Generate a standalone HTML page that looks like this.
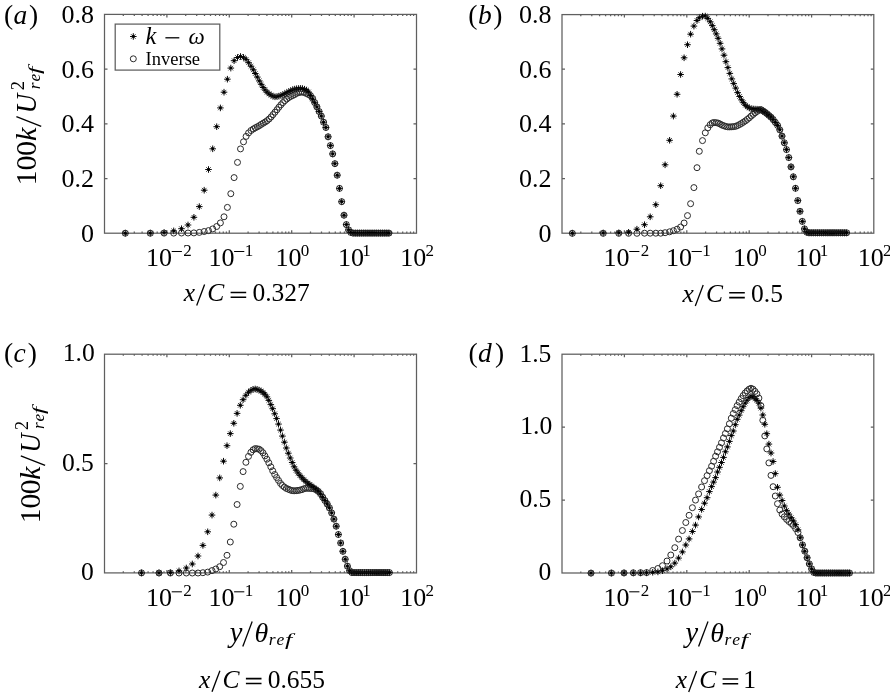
<!DOCTYPE html>
<html><head><meta charset="utf-8"><title>k profiles</title>
<style>html,body{margin:0;padding:0;background:#fff;}svg{display:block;filter:grayscale(1);}</style>
</head><body>
<svg width="890" height="695" viewBox="0 0 890 695">
<filter id="bl" filterUnits="userSpaceOnUse" x="0" y="0" width="890" height="695"><feGaussianBlur stdDeviation="0.35"/></filter>
<rect width="890" height="695" fill="#fff"/>
<g filter="url(#bl)">
<defs><g id="s"><path d="M-3.3 0H3.3M0 -3.3V3.3" stroke="#111" stroke-width="1"/><path d="M-2.3 -2.3L2.3 2.3M-2.3 2.3L2.3 -2.3" stroke="#222" stroke-width="0.85"/><circle r="1.45"/></g><circle id="o" r="3.0" fill="none" stroke="#2a2a2a" stroke-width="1.0"/></defs>
<rect x="104.5" y="14.4" width="312" height="218.8" stroke="#5e5e5e" stroke-width="1.25" fill="none"/>
<path d="M123.3 233.2v-1.6M123.3 14.4v1.6M134.3 233.2v-1.6M134.3 14.4v1.6M142.1 233.2v-1.6M142.1 14.4v1.6M148.1 233.2v-1.6M148.1 14.4v1.6M153.1 233.2v-1.6M153.1 14.4v1.6M157.2 233.2v-1.6M157.2 14.4v1.6M160.9 233.2v-1.6M160.9 14.4v1.6M164 233.2v-1.6M164 14.4v1.6M166.9 233.2v-3M166.9 14.4v3M185.7 233.2v-1.6M185.7 14.4v1.6M196.7 233.2v-1.6M196.7 14.4v1.6M204.5 233.2v-1.6M204.5 14.4v1.6M210.5 233.2v-1.6M210.5 14.4v1.6M215.5 233.2v-1.6M215.5 14.4v1.6M219.6 233.2v-1.6M219.6 14.4v1.6M223.3 233.2v-1.6M223.3 14.4v1.6M226.4 233.2v-1.6M226.4 14.4v1.6M229.3 233.2v-3M229.3 14.4v3M248.1 233.2v-1.6M248.1 14.4v1.6M259.1 233.2v-1.6M259.1 14.4v1.6M266.9 233.2v-1.6M266.9 14.4v1.6M272.9 233.2v-1.6M272.9 14.4v1.6M277.9 233.2v-1.6M277.9 14.4v1.6M282 233.2v-1.6M282 14.4v1.6M285.7 233.2v-1.6M285.7 14.4v1.6M288.8 233.2v-1.6M288.8 14.4v1.6M291.7 233.2v-3M291.7 14.4v3M310.5 233.2v-1.6M310.5 14.4v1.6M321.5 233.2v-1.6M321.5 14.4v1.6M329.3 233.2v-1.6M329.3 14.4v1.6M335.3 233.2v-1.6M335.3 14.4v1.6M340.3 233.2v-1.6M340.3 14.4v1.6M344.4 233.2v-1.6M344.4 14.4v1.6M348.1 233.2v-1.6M348.1 14.4v1.6M351.2 233.2v-1.6M351.2 14.4v1.6M354.1 233.2v-3M354.1 14.4v3M372.9 233.2v-1.6M372.9 14.4v1.6M383.9 233.2v-1.6M383.9 14.4v1.6M391.7 233.2v-1.6M391.7 14.4v1.6M397.7 233.2v-1.6M397.7 14.4v1.6M402.7 233.2v-1.6M402.7 14.4v1.6M406.8 233.2v-1.6M406.8 14.4v1.6M410.5 233.2v-1.6M410.5 14.4v1.6M413.6 233.2v-1.6M413.6 14.4v1.6M104.5 178.5h3M416.5 178.5h-3M104.5 123.8h3M416.5 123.8h-3M104.5 69.1h3M416.5 69.1h-3" stroke="#5e5e5e" stroke-width="1.25" fill="none"/>
<use href="#o" x="125.3" y="233.2"/><use href="#o" x="150.3" y="233.2"/><use href="#o" x="164.1" y="233.1"/><use href="#o" x="173.7" y="233.1"/><use href="#o" x="181.5" y="233"/><use href="#o" x="188" y="233"/><use href="#o" x="193.9" y="232.9"/><use href="#o" x="199.3" y="232.4"/><use href="#o" x="204.2" y="231.5"/><use href="#o" x="208.5" y="230.6"/><use href="#o" x="212.7" y="228.9"/><use href="#o" x="216.7" y="226.5"/><use href="#o" x="220.4" y="222.9"/><use href="#o" x="224" y="216.8"/><use href="#o" x="227.4" y="207.4"/><use href="#o" x="230.8" y="193.7"/><use href="#o" x="234.1" y="177.6"/><use href="#o" x="237.5" y="162.4"/><use href="#o" x="240.5" y="148.9"/><use href="#o" x="243.5" y="141.8"/><use href="#o" x="246.1" y="136.4"/><use href="#o" x="248.6" y="132.9"/><use href="#o" x="251" y="130.5"/><use href="#o" x="253.3" y="129"/><use href="#o" x="255.3" y="127.8"/><use href="#o" x="257.3" y="126.8"/><use href="#o" x="259.3" y="125.7"/><use href="#o" x="261.2" y="124.4"/><use href="#o" x="263.2" y="123.2"/><use href="#o" x="265.2" y="122"/><use href="#o" x="267.1" y="120.7"/><use href="#o" x="269.1" y="119"/><use href="#o" x="271.1" y="116.9"/><use href="#o" x="273" y="114.6"/><use href="#o" x="275" y="112.2"/><use href="#o" x="277" y="109.7"/><use href="#o" x="278.9" y="107.2"/><use href="#o" x="280.9" y="104.8"/><use href="#o" x="282.9" y="102.6"/><use href="#o" x="284.8" y="100.7"/><use href="#o" x="286.8" y="99"/><use href="#o" x="288.8" y="97.5"/><use href="#o" x="290.7" y="96.4"/><use href="#o" x="292.7" y="95.5"/><use href="#o" x="294.7" y="94.5"/><use href="#o" x="296.6" y="93.3"/><use href="#o" x="298.6" y="92.6"/><use href="#o" x="300.6" y="92.2"/><use href="#o" x="302.5" y="92.1"/><use href="#o" x="304.5" y="92.6"/><use href="#o" x="306.5" y="93.5"/><use href="#o" x="308.5" y="94.5"/><use href="#o" x="310.5" y="95.6"/><use href="#o" x="312.6" y="98.4"/><use href="#o" x="314.7" y="102.6"/><use href="#o" x="316.9" y="106.9"/><use href="#o" x="319.1" y="111.5"/><use href="#o" x="321.3" y="116.1"/><use href="#o" x="323.6" y="122.2"/><use href="#o" x="325.9" y="127.5"/><use href="#o" x="328.1" y="136.8"/><use href="#o" x="330.4" y="145.6"/><use href="#o" x="332.7" y="153.9"/><use href="#o" x="334.9" y="163.7"/><use href="#o" x="337.2" y="175.2"/><use href="#o" x="339.5" y="188.4"/><use href="#o" x="341.7" y="201.7"/><use href="#o" x="344" y="215.2"/><use href="#o" x="346.3" y="224.6"/><use href="#o" x="348.6" y="229.9"/><use href="#o" x="350.8" y="232.4"/><use href="#o" x="353.1" y="233.1"/><use href="#o" x="355.3" y="233.1"/><use href="#o" x="357.4" y="233.1"/><use href="#o" x="359.5" y="233.1"/><use href="#o" x="361.6" y="233.1"/><use href="#o" x="363.7" y="233.1"/><use href="#o" x="365.8" y="233.1"/><use href="#o" x="367.9" y="233.1"/><use href="#o" x="370" y="233.1"/><use href="#o" x="372.1" y="233.1"/><use href="#o" x="374.2" y="233.1"/><use href="#o" x="376.3" y="233.1"/><use href="#o" x="378.4" y="233.1"/><use href="#o" x="380.5" y="233.1"/><use href="#o" x="382.6" y="233.1"/><use href="#o" x="384.7" y="233.1"/><use href="#o" x="386.8" y="233.1"/><use href="#o" x="388.9" y="233.1"/><use href="#s" x="125.3" y="233.2"/><use href="#s" x="150.3" y="233.1"/><use href="#s" x="164.1" y="232.6"/><use href="#s" x="173.7" y="230.9"/><use href="#s" x="181.5" y="228.7"/><use href="#s" x="188" y="225"/><use href="#s" x="193.9" y="217.3"/><use href="#s" x="199.3" y="206.6"/><use href="#s" x="204.2" y="190.2"/><use href="#s" x="208.5" y="169.5"/><use href="#s" x="212.7" y="148.8"/><use href="#s" x="216.7" y="126.7"/><use href="#s" x="220.4" y="107.9"/><use href="#s" x="224" y="92.2"/><use href="#s" x="227.4" y="79.2"/><use href="#s" x="230.8" y="68.1"/><use href="#s" x="234.1" y="60.7"/><use href="#s" x="237.5" y="57.5"/><use href="#s" x="240.5" y="56.5"/><use href="#s" x="243.5" y="57.4"/><use href="#s" x="246.1" y="59.4"/><use href="#s" x="248.6" y="62.7"/><use href="#s" x="251" y="66.2"/><use href="#s" x="253.3" y="69.8"/><use href="#s" x="255.3" y="73.5"/><use href="#s" x="257.3" y="77.1"/><use href="#s" x="259.3" y="80.9"/><use href="#s" x="261.2" y="84.3"/><use href="#s" x="263.2" y="87.5"/><use href="#s" x="265.2" y="90.1"/><use href="#s" x="267.1" y="92.2"/><use href="#s" x="269.1" y="93.9"/><use href="#s" x="271.1" y="95.1"/><use href="#s" x="273" y="96.2"/><use href="#s" x="275" y="96.8"/><use href="#s" x="277" y="96.6"/><use href="#s" x="278.9" y="96.1"/><use href="#s" x="280.9" y="95.5"/><use href="#s" x="282.9" y="94.7"/><use href="#s" x="284.8" y="93.7"/><use href="#s" x="286.8" y="92.6"/><use href="#s" x="288.8" y="91.6"/><use href="#s" x="290.7" y="90.7"/><use href="#s" x="292.7" y="89.8"/><use href="#s" x="294.7" y="89.1"/><use href="#s" x="296.6" y="88.7"/><use href="#s" x="298.6" y="88.5"/><use href="#s" x="300.6" y="88.4"/><use href="#s" x="302.5" y="88.6"/><use href="#s" x="304.5" y="89.2"/><use href="#s" x="306.5" y="90.1"/><use href="#s" x="308.5" y="92"/><use href="#s" x="310.5" y="95.6"/><use href="#s" x="312.6" y="99"/><use href="#s" x="314.7" y="102.7"/><use href="#s" x="316.9" y="106.9"/><use href="#s" x="319.1" y="111.5"/><use href="#s" x="321.3" y="116.1"/><use href="#s" x="323.6" y="122.2"/><use href="#s" x="325.9" y="127.5"/><use href="#s" x="328.1" y="136.8"/><use href="#s" x="330.4" y="145.6"/><use href="#s" x="332.7" y="153.9"/><use href="#s" x="334.9" y="163.7"/><use href="#s" x="337.2" y="175.2"/><use href="#s" x="339.5" y="188.4"/><use href="#s" x="341.7" y="201.7"/><use href="#s" x="344" y="215.2"/><use href="#s" x="346.3" y="224.6"/><use href="#s" x="348.6" y="229.9"/><use href="#s" x="350.8" y="232.4"/><use href="#s" x="353.1" y="233.1"/><use href="#s" x="355.3" y="233.1"/><use href="#s" x="357.4" y="233.1"/><use href="#s" x="359.5" y="233.1"/><use href="#s" x="361.6" y="233.1"/><use href="#s" x="363.7" y="233.1"/><use href="#s" x="365.8" y="233.1"/><use href="#s" x="367.9" y="233.1"/><use href="#s" x="370" y="233.1"/><use href="#s" x="372.1" y="233.1"/><use href="#s" x="374.2" y="233.1"/><use href="#s" x="376.3" y="233.1"/><use href="#s" x="378.4" y="233.1"/><use href="#s" x="380.5" y="233.1"/><use href="#s" x="382.6" y="233.1"/><use href="#s" x="384.7" y="233.1"/><use href="#s" x="386.8" y="233.1"/><use href="#s" x="388.9" y="233.1"/>
<rect x="562" y="14.6" width="311.8" height="218.6" stroke="#5e5e5e" stroke-width="1.25" fill="none"/>
<path d="M580.8 233.2v-1.6M580.8 14.6v1.6M591.8 233.2v-1.6M591.8 14.6v1.6M599.6 233.2v-1.6M599.6 14.6v1.6M605.6 233.2v-1.6M605.6 14.6v1.6M610.6 233.2v-1.6M610.6 14.6v1.6M614.7 233.2v-1.6M614.7 14.6v1.6M618.4 233.2v-1.6M618.4 14.6v1.6M621.5 233.2v-1.6M621.5 14.6v1.6M624.4 233.2v-3M624.4 14.6v3M643.2 233.2v-1.6M643.2 14.6v1.6M654.2 233.2v-1.6M654.2 14.6v1.6M662 233.2v-1.6M662 14.6v1.6M668 233.2v-1.6M668 14.6v1.6M673 233.2v-1.6M673 14.6v1.6M677.1 233.2v-1.6M677.1 14.6v1.6M680.8 233.2v-1.6M680.8 14.6v1.6M683.9 233.2v-1.6M683.9 14.6v1.6M686.8 233.2v-3M686.8 14.6v3M705.6 233.2v-1.6M705.6 14.6v1.6M716.6 233.2v-1.6M716.6 14.6v1.6M724.4 233.2v-1.6M724.4 14.6v1.6M730.4 233.2v-1.6M730.4 14.6v1.6M735.4 233.2v-1.6M735.4 14.6v1.6M739.5 233.2v-1.6M739.5 14.6v1.6M743.2 233.2v-1.6M743.2 14.6v1.6M746.3 233.2v-1.6M746.3 14.6v1.6M749.2 233.2v-3M749.2 14.6v3M768 233.2v-1.6M768 14.6v1.6M779 233.2v-1.6M779 14.6v1.6M786.8 233.2v-1.6M786.8 14.6v1.6M792.8 233.2v-1.6M792.8 14.6v1.6M797.8 233.2v-1.6M797.8 14.6v1.6M801.9 233.2v-1.6M801.9 14.6v1.6M805.6 233.2v-1.6M805.6 14.6v1.6M808.7 233.2v-1.6M808.7 14.6v1.6M811.6 233.2v-3M811.6 14.6v3M830.4 233.2v-1.6M830.4 14.6v1.6M841.4 233.2v-1.6M841.4 14.6v1.6M849.2 233.2v-1.6M849.2 14.6v1.6M855.2 233.2v-1.6M855.2 14.6v1.6M860.2 233.2v-1.6M860.2 14.6v1.6M864.3 233.2v-1.6M864.3 14.6v1.6M868 233.2v-1.6M868 14.6v1.6M871.1 233.2v-1.6M871.1 14.6v1.6M562 178.5h3M873.8 178.5h-3M562 123.9h3M873.8 123.9h-3M562 69.2h3M873.8 69.2h-3" stroke="#5e5e5e" stroke-width="1.25" fill="none"/>
<use href="#o" x="572.3" y="233.3"/><use href="#o" x="603.2" y="233.3"/><use href="#o" x="618.8" y="233.3"/><use href="#o" x="628.6" y="233.3"/><use href="#o" x="636.9" y="233.3"/><use href="#o" x="644.5" y="233.2"/><use href="#o" x="650.2" y="233.2"/><use href="#o" x="655.8" y="233.2"/><use href="#o" x="660.7" y="233.2"/><use href="#o" x="665.1" y="232.7"/><use href="#o" x="669.6" y="231.8"/><use href="#o" x="673.4" y="230.7"/><use href="#o" x="677.1" y="229.2"/><use href="#o" x="680.6" y="227"/><use href="#o" x="684.1" y="223"/><use href="#o" x="687.5" y="215.6"/><use href="#o" x="690.6" y="203.7"/><use href="#o" x="693.9" y="187.6"/><use href="#o" x="697" y="167.7"/><use href="#o" x="699.3" y="151.3"/><use href="#o" x="702.5" y="140.6"/><use href="#o" x="705.3" y="132.8"/><use href="#o" x="707.8" y="127.9"/><use href="#o" x="710.2" y="124.7"/><use href="#o" x="712.3" y="122.9"/><use href="#o" x="714.2" y="122.5"/><use href="#o" x="716.2" y="122.7"/><use href="#o" x="718.1" y="123.1"/><use href="#o" x="720.1" y="124"/><use href="#o" x="722" y="125.1"/><use href="#o" x="724" y="125.8"/><use href="#o" x="725.9" y="126.5"/><use href="#o" x="727.9" y="126.9"/><use href="#o" x="729.8" y="126.9"/><use href="#o" x="731.8" y="126.8"/><use href="#o" x="733.7" y="126.6"/><use href="#o" x="735.7" y="126.3"/><use href="#o" x="737.6" y="125.5"/><use href="#o" x="739.6" y="124.5"/><use href="#o" x="741.5" y="123.4"/><use href="#o" x="743.4" y="122.2"/><use href="#o" x="745.4" y="120.9"/><use href="#o" x="747.3" y="119.4"/><use href="#o" x="749.3" y="117.8"/><use href="#o" x="751.2" y="116"/><use href="#o" x="753.2" y="114.4"/><use href="#o" x="755.1" y="112.8"/><use href="#o" x="757.1" y="111.4"/><use href="#o" x="759" y="110.1"/><use href="#o" x="761" y="109.7"/><use href="#o" x="762.9" y="110.9"/><use href="#o" x="764.9" y="112.2"/><use href="#o" x="766.9" y="113.7"/><use href="#o" x="768.9" y="115.4"/><use href="#o" x="771" y="117.2"/><use href="#o" x="773.2" y="119.6"/><use href="#o" x="775.3" y="122.4"/><use href="#o" x="777.6" y="125.4"/><use href="#o" x="779.8" y="129.8"/><use href="#o" x="782" y="136.1"/><use href="#o" x="784.3" y="142.8"/><use href="#o" x="786.5" y="149.6"/><use href="#o" x="788.8" y="157.6"/><use href="#o" x="791" y="166.9"/><use href="#o" x="793.3" y="176.8"/><use href="#o" x="795.5" y="188.3"/><use href="#o" x="797.8" y="200.6"/><use href="#o" x="800" y="211.3"/><use href="#o" x="802.3" y="221.4"/><use href="#o" x="804.5" y="228.9"/><use href="#o" x="806.8" y="232.2"/><use href="#o" x="809" y="232.8"/><use href="#o" x="811.2" y="232.8"/><use href="#o" x="813.3" y="232.8"/><use href="#o" x="815.4" y="232.8"/><use href="#o" x="817.5" y="232.8"/><use href="#o" x="819.6" y="232.8"/><use href="#o" x="821.7" y="232.8"/><use href="#o" x="823.7" y="232.8"/><use href="#o" x="825.8" y="232.8"/><use href="#o" x="827.9" y="232.8"/><use href="#o" x="830" y="232.8"/><use href="#o" x="832.1" y="232.8"/><use href="#o" x="834.1" y="232.8"/><use href="#o" x="836.2" y="232.8"/><use href="#o" x="838.3" y="232.8"/><use href="#o" x="840.4" y="232.8"/><use href="#o" x="842.4" y="232.8"/><use href="#o" x="844.5" y="232.8"/><use href="#o" x="846.6" y="232.8"/><use href="#s" x="572.3" y="233.2"/><use href="#s" x="603.2" y="233"/><use href="#s" x="618.8" y="232.8"/><use href="#s" x="628.6" y="232.3"/><use href="#s" x="636.9" y="229.2"/><use href="#s" x="644.5" y="224.7"/><use href="#s" x="650.2" y="216.8"/><use href="#s" x="655.8" y="204.7"/><use href="#s" x="660.7" y="185.7"/><use href="#s" x="665.1" y="164.8"/><use href="#s" x="669.6" y="140.3"/><use href="#s" x="673.4" y="116.1"/><use href="#s" x="677.1" y="94.3"/><use href="#s" x="680.6" y="74.5"/><use href="#s" x="684.1" y="57.8"/><use href="#s" x="687.5" y="44.7"/><use href="#s" x="690.6" y="34.2"/><use href="#s" x="693.9" y="26.1"/><use href="#s" x="697" y="20.5"/><use href="#s" x="699.3" y="17.8"/><use href="#s" x="702.5" y="16.2"/><use href="#s" x="705.3" y="16.1"/><use href="#s" x="707.8" y="18.4"/><use href="#s" x="710.2" y="21.8"/><use href="#s" x="712.3" y="25.6"/><use href="#s" x="714.2" y="29.7"/><use href="#s" x="716.2" y="33.9"/><use href="#s" x="718.1" y="38.3"/><use href="#s" x="720.1" y="43.3"/><use href="#s" x="722" y="48.9"/><use href="#s" x="724" y="55.2"/><use href="#s" x="725.9" y="61.7"/><use href="#s" x="727.9" y="67.6"/><use href="#s" x="729.8" y="73.4"/><use href="#s" x="731.8" y="78.9"/><use href="#s" x="733.7" y="83.6"/><use href="#s" x="735.7" y="88.1"/><use href="#s" x="737.6" y="92.6"/><use href="#s" x="739.6" y="96.5"/><use href="#s" x="741.5" y="99.9"/><use href="#s" x="743.4" y="102.7"/><use href="#s" x="745.4" y="105.2"/><use href="#s" x="747.3" y="106.8"/><use href="#s" x="749.3" y="108"/><use href="#s" x="751.2" y="108.7"/><use href="#s" x="753.2" y="109"/><use href="#s" x="755.1" y="109.1"/><use href="#s" x="757.1" y="109.2"/><use href="#s" x="759" y="109.4"/><use href="#s" x="761" y="109.7"/><use href="#s" x="762.9" y="110.9"/><use href="#s" x="764.9" y="112.2"/><use href="#s" x="766.9" y="113.7"/><use href="#s" x="768.9" y="115.4"/><use href="#s" x="771" y="117.2"/><use href="#s" x="773.2" y="119.6"/><use href="#s" x="775.3" y="122.4"/><use href="#s" x="777.6" y="125.4"/><use href="#s" x="779.8" y="129.8"/><use href="#s" x="782" y="136.1"/><use href="#s" x="784.3" y="142.8"/><use href="#s" x="786.5" y="149.6"/><use href="#s" x="788.8" y="157.6"/><use href="#s" x="791" y="166.9"/><use href="#s" x="793.3" y="176.8"/><use href="#s" x="795.5" y="188.3"/><use href="#s" x="797.8" y="200.6"/><use href="#s" x="800" y="211.3"/><use href="#s" x="802.3" y="221.4"/><use href="#s" x="804.5" y="228.9"/><use href="#s" x="806.8" y="232.2"/><use href="#s" x="809" y="232.8"/><use href="#s" x="811.2" y="232.8"/><use href="#s" x="813.3" y="232.8"/><use href="#s" x="815.4" y="232.8"/><use href="#s" x="817.5" y="232.8"/><use href="#s" x="819.6" y="232.8"/><use href="#s" x="821.7" y="232.8"/><use href="#s" x="823.7" y="232.8"/><use href="#s" x="825.8" y="232.8"/><use href="#s" x="827.9" y="232.8"/><use href="#s" x="830" y="232.8"/><use href="#s" x="832.1" y="232.8"/><use href="#s" x="834.1" y="232.8"/><use href="#s" x="836.2" y="232.8"/><use href="#s" x="838.3" y="232.8"/><use href="#s" x="840.4" y="232.8"/><use href="#s" x="842.4" y="232.8"/><use href="#s" x="844.5" y="232.8"/><use href="#s" x="846.6" y="232.8"/>
<rect x="104.5" y="354.2" width="312" height="218.7" stroke="#5e5e5e" stroke-width="1.25" fill="none"/>
<path d="M123.3 572.9v-1.6M123.3 354.2v1.6M134.3 572.9v-1.6M134.3 354.2v1.6M142.1 572.9v-1.6M142.1 354.2v1.6M148.1 572.9v-1.6M148.1 354.2v1.6M153.1 572.9v-1.6M153.1 354.2v1.6M157.2 572.9v-1.6M157.2 354.2v1.6M160.9 572.9v-1.6M160.9 354.2v1.6M164 572.9v-1.6M164 354.2v1.6M166.9 572.9v-3M166.9 354.2v3M185.7 572.9v-1.6M185.7 354.2v1.6M196.7 572.9v-1.6M196.7 354.2v1.6M204.5 572.9v-1.6M204.5 354.2v1.6M210.5 572.9v-1.6M210.5 354.2v1.6M215.5 572.9v-1.6M215.5 354.2v1.6M219.6 572.9v-1.6M219.6 354.2v1.6M223.3 572.9v-1.6M223.3 354.2v1.6M226.4 572.9v-1.6M226.4 354.2v1.6M229.3 572.9v-3M229.3 354.2v3M248.1 572.9v-1.6M248.1 354.2v1.6M259.1 572.9v-1.6M259.1 354.2v1.6M266.9 572.9v-1.6M266.9 354.2v1.6M272.9 572.9v-1.6M272.9 354.2v1.6M277.9 572.9v-1.6M277.9 354.2v1.6M282 572.9v-1.6M282 354.2v1.6M285.7 572.9v-1.6M285.7 354.2v1.6M288.8 572.9v-1.6M288.8 354.2v1.6M291.7 572.9v-3M291.7 354.2v3M310.5 572.9v-1.6M310.5 354.2v1.6M321.5 572.9v-1.6M321.5 354.2v1.6M329.3 572.9v-1.6M329.3 354.2v1.6M335.3 572.9v-1.6M335.3 354.2v1.6M340.3 572.9v-1.6M340.3 354.2v1.6M344.4 572.9v-1.6M344.4 354.2v1.6M348.1 572.9v-1.6M348.1 354.2v1.6M351.2 572.9v-1.6M351.2 354.2v1.6M354.1 572.9v-3M354.1 354.2v3M372.9 572.9v-1.6M372.9 354.2v1.6M383.9 572.9v-1.6M383.9 354.2v1.6M391.7 572.9v-1.6M391.7 354.2v1.6M397.7 572.9v-1.6M397.7 354.2v1.6M402.7 572.9v-1.6M402.7 354.2v1.6M406.8 572.9v-1.6M406.8 354.2v1.6M410.5 572.9v-1.6M410.5 354.2v1.6M413.6 572.9v-1.6M413.6 354.2v1.6M104.5 463.5h3M416.5 463.5h-3" stroke="#5e5e5e" stroke-width="1.25" fill="none"/>
<use href="#o" x="141.5" y="572.9"/><use href="#o" x="159" y="573"/><use href="#o" x="170.4" y="573"/><use href="#o" x="179" y="573"/><use href="#o" x="186.3" y="573"/><use href="#o" x="192.3" y="573"/><use href="#o" x="198" y="573"/><use href="#o" x="202.9" y="572.7"/><use href="#o" x="207.7" y="572.1"/><use href="#o" x="212" y="570.6"/><use href="#o" x="215.8" y="569"/><use href="#o" x="219.7" y="566.7"/><use href="#o" x="223.5" y="562.5"/><use href="#o" x="227" y="555.3"/><use href="#o" x="230.3" y="542"/><use href="#o" x="233.8" y="524.2"/><use href="#o" x="237.1" y="504.5"/><use href="#o" x="240.3" y="486.4"/><use href="#o" x="243.1" y="471.6"/><use href="#o" x="245.9" y="462.3"/><use href="#o" x="248.5" y="456.4"/><use href="#o" x="250.9" y="452.3"/><use href="#o" x="253.1" y="449.8"/><use href="#o" x="255.2" y="448.6"/><use href="#o" x="257.1" y="448.8"/><use href="#o" x="259.1" y="449.2"/><use href="#o" x="261" y="450.6"/><use href="#o" x="263" y="452.8"/><use href="#o" x="264.9" y="455.9"/><use href="#o" x="266.9" y="459.2"/><use href="#o" x="268.8" y="462.8"/><use href="#o" x="270.8" y="466.8"/><use href="#o" x="272.7" y="470.8"/><use href="#o" x="274.7" y="474.5"/><use href="#o" x="276.6" y="477.5"/><use href="#o" x="278.5" y="480.4"/><use href="#o" x="280.5" y="483.4"/><use href="#o" x="282.4" y="485.5"/><use href="#o" x="284.4" y="487.1"/><use href="#o" x="286.3" y="488.4"/><use href="#o" x="288.3" y="489.2"/><use href="#o" x="290.2" y="490"/><use href="#o" x="292.2" y="490.6"/><use href="#o" x="294.1" y="490.8"/><use href="#o" x="296.1" y="490.7"/><use href="#o" x="298" y="490.4"/><use href="#o" x="299.9" y="490.1"/><use href="#o" x="301.9" y="489.6"/><use href="#o" x="303.8" y="488.8"/><use href="#o" x="305.8" y="488.3"/><use href="#o" x="307.8" y="488.3"/><use href="#o" x="309.8" y="488.4"/><use href="#o" x="311.8" y="488.5"/><use href="#o" x="313.9" y="488.8"/><use href="#o" x="316.1" y="489.8"/><use href="#o" x="318.2" y="491.3"/><use href="#o" x="320.5" y="493.7"/><use href="#o" x="322.7" y="497.2"/><use href="#o" x="324.9" y="500.5"/><use href="#o" x="327.2" y="504"/><use href="#o" x="329.4" y="507.9"/><use href="#o" x="331.7" y="512.9"/><use href="#o" x="333.9" y="519.1"/><use href="#o" x="336.2" y="526.2"/><use href="#o" x="338.4" y="534.5"/><use href="#o" x="340.7" y="543"/><use href="#o" x="342.9" y="551.3"/><use href="#o" x="345.2" y="559.2"/><use href="#o" x="347.4" y="566.1"/><use href="#o" x="349.6" y="570.7"/><use href="#o" x="351.9" y="572.6"/><use href="#o" x="354.1" y="572.6"/><use href="#o" x="356.2" y="572.6"/><use href="#o" x="358.3" y="572.6"/><use href="#o" x="360.3" y="572.6"/><use href="#o" x="362.4" y="572.6"/><use href="#o" x="364.5" y="572.6"/><use href="#o" x="366.6" y="572.6"/><use href="#o" x="368.6" y="572.6"/><use href="#o" x="370.7" y="572.6"/><use href="#o" x="372.8" y="572.6"/><use href="#o" x="374.9" y="572.6"/><use href="#o" x="376.9" y="572.6"/><use href="#o" x="379" y="572.6"/><use href="#o" x="381.1" y="572.6"/><use href="#o" x="383.2" y="572.6"/><use href="#o" x="385.2" y="572.6"/><use href="#o" x="387.3" y="572.6"/><use href="#o" x="389.4" y="572.6"/><use href="#s" x="141.5" y="572.9"/><use href="#s" x="159" y="572.9"/><use href="#s" x="170.4" y="572.7"/><use href="#s" x="179" y="570.9"/><use href="#s" x="186.3" y="568"/><use href="#s" x="192.3" y="564"/><use href="#s" x="198" y="556"/><use href="#s" x="202.9" y="545.4"/><use href="#s" x="207.7" y="531.8"/><use href="#s" x="212" y="515.1"/><use href="#s" x="215.8" y="495.1"/><use href="#s" x="219.7" y="477.9"/><use href="#s" x="223.5" y="461.2"/><use href="#s" x="227" y="445.7"/><use href="#s" x="230.3" y="433.6"/><use href="#s" x="233.8" y="423.3"/><use href="#s" x="237.1" y="413.4"/><use href="#s" x="240.3" y="405.3"/><use href="#s" x="243.1" y="399.7"/><use href="#s" x="245.9" y="395.3"/><use href="#s" x="248.5" y="392.2"/><use href="#s" x="250.9" y="390.4"/><use href="#s" x="253.1" y="389.3"/><use href="#s" x="255.2" y="389"/><use href="#s" x="257.1" y="389.4"/><use href="#s" x="259.1" y="390.1"/><use href="#s" x="261" y="391"/><use href="#s" x="263" y="392.5"/><use href="#s" x="264.9" y="394.3"/><use href="#s" x="266.9" y="396.8"/><use href="#s" x="268.8" y="400.4"/><use href="#s" x="270.8" y="404.6"/><use href="#s" x="272.7" y="408.7"/><use href="#s" x="274.7" y="413.8"/><use href="#s" x="276.6" y="418.6"/><use href="#s" x="278.5" y="424.1"/><use href="#s" x="280.5" y="430.1"/><use href="#s" x="282.4" y="436.1"/><use href="#s" x="284.4" y="442.2"/><use href="#s" x="286.3" y="448"/><use href="#s" x="288.3" y="453.2"/><use href="#s" x="290.2" y="458"/><use href="#s" x="292.2" y="462.5"/><use href="#s" x="294.1" y="466.8"/><use href="#s" x="296.1" y="470.2"/><use href="#s" x="298" y="473"/><use href="#s" x="299.9" y="475.4"/><use href="#s" x="301.9" y="477.7"/><use href="#s" x="303.8" y="479.7"/><use href="#s" x="305.8" y="481.6"/><use href="#s" x="307.8" y="483.1"/><use href="#s" x="309.8" y="484.5"/><use href="#s" x="311.8" y="485.9"/><use href="#s" x="313.9" y="487.5"/><use href="#s" x="316.1" y="489.2"/><use href="#s" x="318.2" y="491.2"/><use href="#s" x="320.5" y="494"/><use href="#s" x="322.7" y="497.2"/><use href="#s" x="324.9" y="500.5"/><use href="#s" x="327.2" y="504"/><use href="#s" x="329.4" y="507.9"/><use href="#s" x="331.7" y="512.9"/><use href="#s" x="333.9" y="519.1"/><use href="#s" x="336.2" y="526.2"/><use href="#s" x="338.4" y="534.5"/><use href="#s" x="340.7" y="543"/><use href="#s" x="342.9" y="551.3"/><use href="#s" x="345.2" y="559.2"/><use href="#s" x="347.4" y="566.1"/><use href="#s" x="349.6" y="570.7"/><use href="#s" x="351.9" y="572.6"/><use href="#s" x="354.1" y="572.6"/><use href="#s" x="356.2" y="572.6"/><use href="#s" x="358.3" y="572.6"/><use href="#s" x="360.3" y="572.6"/><use href="#s" x="362.4" y="572.6"/><use href="#s" x="364.5" y="572.6"/><use href="#s" x="366.6" y="572.6"/><use href="#s" x="368.6" y="572.6"/><use href="#s" x="370.7" y="572.6"/><use href="#s" x="372.8" y="572.6"/><use href="#s" x="374.9" y="572.6"/><use href="#s" x="376.9" y="572.6"/><use href="#s" x="379" y="572.6"/><use href="#s" x="381.1" y="572.6"/><use href="#s" x="383.2" y="572.6"/><use href="#s" x="385.2" y="572.6"/><use href="#s" x="387.3" y="572.6"/><use href="#s" x="389.4" y="572.6"/>
<rect x="562" y="354.2" width="311.8" height="218.8" stroke="#5e5e5e" stroke-width="1.25" fill="none"/>
<path d="M580.8 573v-1.6M580.8 354.2v1.6M591.8 573v-1.6M591.8 354.2v1.6M599.6 573v-1.6M599.6 354.2v1.6M605.6 573v-1.6M605.6 354.2v1.6M610.6 573v-1.6M610.6 354.2v1.6M614.7 573v-1.6M614.7 354.2v1.6M618.4 573v-1.6M618.4 354.2v1.6M621.5 573v-1.6M621.5 354.2v1.6M624.4 573v-3M624.4 354.2v3M643.2 573v-1.6M643.2 354.2v1.6M654.2 573v-1.6M654.2 354.2v1.6M662 573v-1.6M662 354.2v1.6M668 573v-1.6M668 354.2v1.6M673 573v-1.6M673 354.2v1.6M677.1 573v-1.6M677.1 354.2v1.6M680.8 573v-1.6M680.8 354.2v1.6M683.9 573v-1.6M683.9 354.2v1.6M686.8 573v-3M686.8 354.2v3M705.6 573v-1.6M705.6 354.2v1.6M716.6 573v-1.6M716.6 354.2v1.6M724.4 573v-1.6M724.4 354.2v1.6M730.4 573v-1.6M730.4 354.2v1.6M735.4 573v-1.6M735.4 354.2v1.6M739.5 573v-1.6M739.5 354.2v1.6M743.2 573v-1.6M743.2 354.2v1.6M746.3 573v-1.6M746.3 354.2v1.6M749.2 573v-3M749.2 354.2v3M768 573v-1.6M768 354.2v1.6M779 573v-1.6M779 354.2v1.6M786.8 573v-1.6M786.8 354.2v1.6M792.8 573v-1.6M792.8 354.2v1.6M797.8 573v-1.6M797.8 354.2v1.6M801.9 573v-1.6M801.9 354.2v1.6M805.6 573v-1.6M805.6 354.2v1.6M808.7 573v-1.6M808.7 354.2v1.6M811.6 573v-3M811.6 354.2v3M830.4 573v-1.6M830.4 354.2v1.6M841.4 573v-1.6M841.4 354.2v1.6M849.2 573v-1.6M849.2 354.2v1.6M855.2 573v-1.6M855.2 354.2v1.6M860.2 573v-1.6M860.2 354.2v1.6M864.3 573v-1.6M864.3 354.2v1.6M868 573v-1.6M868 354.2v1.6M871.1 573v-1.6M871.1 354.2v1.6M562 500.1h3M873.8 500.1h-3M562 427.1h3M873.8 427.1h-3" stroke="#5e5e5e" stroke-width="1.25" fill="none"/>
<use href="#o" x="591" y="573.1"/><use href="#o" x="611.4" y="573"/><use href="#o" x="624" y="572.9"/><use href="#o" x="633.3" y="572.8"/><use href="#o" x="640.6" y="572.7"/><use href="#o" x="646.6" y="572.6"/><use href="#o" x="652.7" y="570.5"/><use href="#o" x="657.9" y="568.5"/><use href="#o" x="662.5" y="565.7"/><use href="#o" x="667" y="561"/><use href="#o" x="670.8" y="555"/><use href="#o" x="674.8" y="547.7"/><use href="#o" x="678.6" y="539.1"/><use href="#o" x="682.4" y="530.5"/><use href="#o" x="685.8" y="522.5"/><use href="#o" x="689.1" y="515.3"/><use href="#o" x="692.4" y="507.7"/><use href="#o" x="695.5" y="500.1"/><use href="#o" x="698.6" y="493.9"/><use href="#o" x="701.6" y="487"/><use href="#o" x="704.5" y="480.7"/><use href="#o" x="707.1" y="475.6"/><use href="#o" x="709.4" y="470.7"/><use href="#o" x="711.6" y="466.2"/><use href="#o" x="713.6" y="461.3"/><use href="#o" x="715.6" y="456.2"/><use href="#o" x="717.5" y="451.8"/><use href="#o" x="719.5" y="447.3"/><use href="#o" x="721.5" y="442.8"/><use href="#o" x="723.5" y="438"/><use href="#o" x="725.4" y="433.5"/><use href="#o" x="727.4" y="428.8"/><use href="#o" x="729.4" y="423.8"/><use href="#o" x="731.3" y="418.2"/><use href="#o" x="733.3" y="413.5"/><use href="#o" x="735.3" y="409.6"/><use href="#o" x="737.2" y="405.6"/><use href="#o" x="739.2" y="402.1"/><use href="#o" x="741.2" y="398.6"/><use href="#o" x="743.1" y="395.6"/><use href="#o" x="745.1" y="393"/><use href="#o" x="747.1" y="390.9"/><use href="#o" x="749.1" y="389.2"/><use href="#o" x="751" y="388.3"/><use href="#o" x="753" y="389.2"/><use href="#o" x="755" y="391.4"/><use href="#o" x="756.9" y="393.9"/><use href="#o" x="758.9" y="398.1"/><use href="#o" x="760.9" y="405.7"/><use href="#o" x="762.8" y="420.3"/><use href="#o" x="764.8" y="435.9"/><use href="#o" x="766.8" y="448.9"/><use href="#o" x="768.9" y="462.9"/><use href="#o" x="771" y="475.4"/><use href="#o" x="773.1" y="486.7"/><use href="#o" x="775.3" y="496"/><use href="#o" x="777.5" y="503.7"/><use href="#o" x="779.8" y="510"/><use href="#o" x="782.1" y="514.1"/><use href="#o" x="784.3" y="516.8"/><use href="#o" x="786.6" y="519.4"/><use href="#o" x="788.9" y="521.5"/><use href="#o" x="791.2" y="523.4"/><use href="#o" x="793.4" y="525.5"/><use href="#o" x="795.7" y="528.7"/><use href="#o" x="798" y="532.5"/><use href="#o" x="800.2" y="537.8"/><use href="#o" x="802.5" y="544.9"/><use href="#o" x="804.8" y="551.2"/><use href="#o" x="807.1" y="557.8"/><use href="#o" x="809.3" y="563.9"/><use href="#o" x="811.6" y="568.9"/><use href="#o" x="813.8" y="572.4"/><use href="#o" x="815.9" y="573"/><use href="#o" x="818" y="573"/><use href="#o" x="820.1" y="573"/><use href="#o" x="822.2" y="573"/><use href="#o" x="824.3" y="573"/><use href="#o" x="826.4" y="573"/><use href="#o" x="828.5" y="573"/><use href="#o" x="830.6" y="573"/><use href="#o" x="832.7" y="573"/><use href="#o" x="834.8" y="573"/><use href="#o" x="836.9" y="573"/><use href="#o" x="839" y="573"/><use href="#o" x="841.1" y="573"/><use href="#o" x="843.2" y="573"/><use href="#o" x="845.3" y="573"/><use href="#o" x="847.4" y="573"/><use href="#o" x="849.5" y="573"/><use href="#s" x="591" y="573.1"/><use href="#s" x="611.4" y="573.1"/><use href="#s" x="624" y="573"/><use href="#s" x="633.3" y="572.9"/><use href="#s" x="640.6" y="572.9"/><use href="#s" x="646.6" y="572.8"/><use href="#s" x="652.7" y="572.3"/><use href="#s" x="657.9" y="571.9"/><use href="#s" x="662.5" y="570.7"/><use href="#s" x="667" y="568.9"/><use href="#s" x="670.8" y="566.8"/><use href="#s" x="674.8" y="563.1"/><use href="#s" x="678.6" y="558.1"/><use href="#s" x="682.4" y="551.9"/><use href="#s" x="685.8" y="545"/><use href="#s" x="689.1" y="538.9"/><use href="#s" x="692.4" y="531.5"/><use href="#s" x="695.5" y="525.1"/><use href="#s" x="698.6" y="516.9"/><use href="#s" x="701.6" y="509.5"/><use href="#s" x="704.5" y="503.2"/><use href="#s" x="707.1" y="497.7"/><use href="#s" x="709.4" y="491.6"/><use href="#s" x="711.6" y="486.6"/><use href="#s" x="713.6" y="482.1"/><use href="#s" x="715.6" y="477.6"/><use href="#s" x="717.5" y="472"/><use href="#s" x="719.5" y="467.3"/><use href="#s" x="721.5" y="462.5"/><use href="#s" x="723.5" y="457.4"/><use href="#s" x="725.4" y="451.8"/><use href="#s" x="727.4" y="446.9"/><use href="#s" x="729.4" y="441.4"/><use href="#s" x="731.3" y="435.6"/><use href="#s" x="733.3" y="431"/><use href="#s" x="735.3" y="424.7"/><use href="#s" x="737.2" y="419.3"/><use href="#s" x="739.2" y="415.1"/><use href="#s" x="741.2" y="410.7"/><use href="#s" x="743.1" y="406.7"/><use href="#s" x="745.1" y="403.1"/><use href="#s" x="747.1" y="400.1"/><use href="#s" x="749.1" y="397.6"/><use href="#s" x="751" y="396.2"/><use href="#s" x="753" y="396.6"/><use href="#s" x="755" y="398.6"/><use href="#s" x="756.9" y="400.3"/><use href="#s" x="758.9" y="403.1"/><use href="#s" x="760.9" y="408.1"/><use href="#s" x="762.8" y="415"/><use href="#s" x="764.8" y="424.3"/><use href="#s" x="766.8" y="433.7"/><use href="#s" x="768.9" y="444.1"/><use href="#s" x="771" y="453"/><use href="#s" x="773.1" y="461.5"/><use href="#s" x="775.3" y="473.6"/><use href="#s" x="777.5" y="487.3"/><use href="#s" x="779.8" y="495.1"/><use href="#s" x="782.1" y="500.5"/><use href="#s" x="784.3" y="506"/><use href="#s" x="786.6" y="510.4"/><use href="#s" x="788.9" y="514.1"/><use href="#s" x="791.2" y="517.7"/><use href="#s" x="793.4" y="520.9"/><use href="#s" x="795.7" y="524.7"/><use href="#s" x="798" y="529.8"/><use href="#s" x="800.2" y="537.8"/><use href="#s" x="802.5" y="544.9"/><use href="#s" x="804.8" y="551.2"/><use href="#s" x="807.1" y="557.8"/><use href="#s" x="809.3" y="563.9"/><use href="#s" x="811.6" y="568.9"/><use href="#s" x="813.8" y="572.4"/><use href="#s" x="815.9" y="573"/><use href="#s" x="818" y="573"/><use href="#s" x="820.1" y="573"/><use href="#s" x="822.2" y="573"/><use href="#s" x="824.3" y="573"/><use href="#s" x="826.4" y="573"/><use href="#s" x="828.5" y="573"/><use href="#s" x="830.6" y="573"/><use href="#s" x="832.7" y="573"/><use href="#s" x="834.8" y="573"/><use href="#s" x="836.9" y="573"/><use href="#s" x="839" y="573"/><use href="#s" x="841.1" y="573"/><use href="#s" x="843.2" y="573"/><use href="#s" x="845.3" y="573"/><use href="#s" x="847.4" y="573"/><use href="#s" x="849.5" y="573"/>
<rect x="115.2" y="24.1" width="104.6" height="46" stroke="#5e5e5e" stroke-width="1.25" fill="none"/>
<use href="#s" x="133.3" y="36.5"/><use href="#o" x="133.3" y="58.8"/>
<g font-family="&quot;Liberation Serif&quot;, serif" fill="#000"><text x="93.9" y="241.7" font-size="26" text-anchor="end">0</text><text x="93.9" y="187" font-size="26" text-anchor="end">0.2</text><text x="93.9" y="132.3" font-size="26" text-anchor="end">0.4</text><text x="93.9" y="77.6" font-size="26" text-anchor="end">0.6</text><text x="93.9" y="22.9" font-size="26" text-anchor="end">0.8</text><text x="551.4" y="241.7" font-size="26" text-anchor="end">0</text><text x="551.4" y="187" font-size="26" text-anchor="end">0.2</text><text x="551.4" y="132.4" font-size="26" text-anchor="end">0.4</text><text x="551.4" y="77.7" font-size="26" text-anchor="end">0.6</text><text x="551.4" y="23.1" font-size="26" text-anchor="end">0.8</text><text x="93.9" y="580.3" font-size="25.6" text-anchor="end">0</text><text x="93.9" y="470.9" font-size="25.6" text-anchor="end">0.5</text><text x="94.8" y="361.1" font-size="25.6" text-anchor="end">1.0</text><text x="551.4" y="580.4" font-size="25.6" text-anchor="end">0</text><text x="551.4" y="507.4" font-size="25.6" text-anchor="end">0.5</text><text x="552.3" y="434" font-size="25.6" text-anchor="end">1.0</text><text x="551.4" y="361.6" font-size="25.6" text-anchor="end">1.5</text><text x="146" y="265.5" font-size="26">1</text><text x="159" y="265.5" font-size="26">0</text><path d="M171.7 251.5h10.2" stroke="#000" stroke-width="1.05"/><text x="183.2" y="255.7" font-size="17">2</text><text x="208.4" y="265.5" font-size="26">1</text><text x="221.4" y="265.5" font-size="26">0</text><path d="M234.1 251.5h10.2" stroke="#000" stroke-width="1.05"/><text x="244.8" y="255.7" font-size="17">1</text><text x="275.5" y="265.5" font-size="26">1</text><text x="288.5" y="265.5" font-size="26">0</text><text x="300.8" y="255.7" font-size="17">0</text><text x="337.9" y="265.5" font-size="26">1</text><text x="350.9" y="265.5" font-size="26">0</text><text x="362.3" y="255.7" font-size="17">1</text><text x="400.3" y="265.5" font-size="26">1</text><text x="413.3" y="265.5" font-size="26">0</text><text x="425.5" y="255.7" font-size="17">2</text><text x="603.5" y="265.5" font-size="26">1</text><text x="616.5" y="265.5" font-size="26">0</text><path d="M629.2 251.5h10.2" stroke="#000" stroke-width="1.05"/><text x="640.7" y="255.7" font-size="17">2</text><text x="665.9" y="265.5" font-size="26">1</text><text x="678.9" y="265.5" font-size="26">0</text><path d="M691.6 251.5h10.2" stroke="#000" stroke-width="1.05"/><text x="702.3" y="255.7" font-size="17">1</text><text x="733" y="265.5" font-size="26">1</text><text x="746" y="265.5" font-size="26">0</text><text x="758.3" y="255.7" font-size="17">0</text><text x="795.4" y="265.5" font-size="26">1</text><text x="808.4" y="265.5" font-size="26">0</text><text x="819.8" y="255.7" font-size="17">1</text><text x="857.8" y="265.5" font-size="26">1</text><text x="870.8" y="265.5" font-size="26">0</text><text x="883" y="255.7" font-size="17">2</text><text x="146" y="605.8" font-size="26">1</text><text x="159" y="605.8" font-size="26">0</text><path d="M171.7 591.8h10.2" stroke="#000" stroke-width="1.05"/><text x="183.2" y="596" font-size="17">2</text><text x="208.4" y="605.8" font-size="26">1</text><text x="221.4" y="605.8" font-size="26">0</text><path d="M234.1 591.8h10.2" stroke="#000" stroke-width="1.05"/><text x="244.8" y="596" font-size="17">1</text><text x="275.5" y="605.8" font-size="26">1</text><text x="288.5" y="605.8" font-size="26">0</text><text x="300.8" y="596" font-size="17">0</text><text x="337.9" y="605.8" font-size="26">1</text><text x="350.9" y="605.8" font-size="26">0</text><text x="362.3" y="596" font-size="17">1</text><text x="400.3" y="605.8" font-size="26">1</text><text x="413.3" y="605.8" font-size="26">0</text><text x="425.5" y="596" font-size="17">2</text><text x="603.5" y="605.8" font-size="26">1</text><text x="616.5" y="605.8" font-size="26">0</text><path d="M629.2 591.8h10.2" stroke="#000" stroke-width="1.05"/><text x="640.7" y="596" font-size="17">2</text><text x="665.9" y="605.8" font-size="26">1</text><text x="678.9" y="605.8" font-size="26">0</text><path d="M691.6 591.8h10.2" stroke="#000" stroke-width="1.05"/><text x="702.3" y="596" font-size="17">1</text><text x="733" y="605.8" font-size="26">1</text><text x="746" y="605.8" font-size="26">0</text><text x="758.3" y="596" font-size="17">0</text><text x="795.4" y="605.8" font-size="26">1</text><text x="808.4" y="605.8" font-size="26">0</text><text x="819.8" y="596" font-size="17">1</text><text x="857.8" y="605.8" font-size="26">1</text><text x="870.8" y="605.8" font-size="26">0</text><text x="883" y="596" font-size="17">2</text><text x="4" y="23.7" font-size="27.5">(</text><text x="13.5" y="23.7" font-size="27.5" font-style="italic">a</text><text x="29.1" y="23.7" font-size="27.5">)</text><text x="468.2" y="23.7" font-size="27.5">(</text><text x="477.9" y="23.7" font-size="27.5" font-style="italic">b</text><text x="493.2" y="23.7" font-size="27.5">)</text><text x="3.9" y="361.6" font-size="27.5">(</text><text x="13.6" y="361.6" font-size="27.5" font-style="italic">c</text><text x="27.7" y="361.6" font-size="27.5">)</text><text x="468.5" y="361.6" font-size="27.5">(</text><text x="477.9" y="361.6" font-size="27.5" font-style="italic">d</text><text x="495" y="361.6" font-size="27.5">)</text><g transform="translate(36.2 183.2) rotate(-90)"><text x="-2.3" y="0" font-size="30.3">1</text><text x="12.6" y="0" font-size="30.3">0</text><text x="27.3" y="0" font-size="30.3">0</text><text x="42.2" y="0" font-size="30.3" font-style="italic">k</text><path d="M56.9 5L66.6 -19.8" stroke="#000" stroke-width="1.4"/><text transform="translate(69.7 0) scale(0.9 1)" font-size="30.3" font-style="italic">U</text><text x="92.9" y="-12.1" font-size="18.5">2</text><text x="94" y="3.7" font-size="17.5" font-style="italic">r</text><text x="101.7" y="3.7" font-size="17.5" font-style="italic">e</text><text transform="translate(109.3 3.7) scale(1.5 1)" font-size="17.5" font-style="italic">f</text></g><g transform="translate(40.2 521) rotate(-90)"><text x="-2.2" y="0" font-size="29.6">1</text><text x="12.4" y="0" font-size="29.6">0</text><text x="26.8" y="0" font-size="29.6">0</text><text x="41.3" y="0" font-size="29.6" font-style="italic">k</text><path d="M55.6 4.9L65.1 -19.4" stroke="#000" stroke-width="1.4"/><text transform="translate(68.2 0) scale(0.9 1)" font-size="29.6" font-style="italic">U</text><text x="90.9" y="-11.8" font-size="18.1">2</text><text x="91.9" y="3.6" font-size="17.1" font-style="italic">r</text><text x="99.4" y="3.6" font-size="17.1" font-style="italic">e</text><text transform="translate(106.9 3.6) scale(1.5 1)" font-size="17.1" font-style="italic">f</text></g><text x="183.8" y="301.3" font-size="25.5" font-style="italic">x</text><path d="M196.7 305.5L204.6 284.5" stroke="#000" stroke-width="1.3"/><text x="207.3" y="301.3" font-size="25.5" font-style="italic">C</text><path d="M230.6 292.4h15.6M230.6 297.2h15.6" stroke="#000" stroke-width="1.55"/><text x="252.4" y="301.3" font-size="25.5">0.327</text><text x="682.4" y="301.7" font-size="25.5" font-style="italic">x</text><path d="M695.3 305.9L703.2 284.9" stroke="#000" stroke-width="1.3"/><text x="705.9" y="301.7" font-size="25.5" font-style="italic">C</text><path d="M729.2 292.8h15.6M729.2 297.6h15.6" stroke="#000" stroke-width="1.55"/><text x="751" y="301.7" font-size="25.5">0.5</text><text x="199.1" y="687.5" font-size="25.5" font-style="italic">x</text><path d="M212 691.7L219.9 670.7" stroke="#000" stroke-width="1.3"/><text x="222.6" y="687.5" font-size="25.5" font-style="italic">C</text><path d="M245.9 678.6h15.6M245.9 683.4h15.6" stroke="#000" stroke-width="1.55"/><text x="267.7" y="687.5" font-size="25.5">0.655</text><text x="675.8" y="687.8" font-size="25.5" font-style="italic">x</text><path d="M688.7 692L696.6 671" stroke="#000" stroke-width="1.3"/><text x="699.3" y="687.8" font-size="25.5" font-style="italic">C</text><path d="M722.6 678.9h15.6M722.6 683.7h15.6" stroke="#000" stroke-width="1.55"/><text x="743.2" y="687.8" font-size="25.5">1</text><text x="229.8" y="641.6" font-size="28.5" font-style="italic">y</text><path d="M242.8 646.6L252.2 621.6" stroke="#000" stroke-width="1.3"/><text x="254.5" y="641.6" font-size="28" font-style="italic">θ</text><text x="268.7" y="645.2" font-size="17.5" font-style="italic">r</text><text x="276.4" y="645.2" font-size="17.5" font-style="italic">e</text><text transform="translate(284.9 645.2) scale(1.5 1)" font-size="17.5" font-style="italic">f</text><text x="685.6" y="641.6" font-size="28.5" font-style="italic">y</text><path d="M698.6 646.6L708 621.6" stroke="#000" stroke-width="1.3"/><text x="710.3" y="641.6" font-size="28" font-style="italic">θ</text><text x="724.5" y="645.2" font-size="17.5" font-style="italic">r</text><text x="732.2" y="645.2" font-size="17.5" font-style="italic">e</text><text transform="translate(740.7 645.2) scale(1.5 1)" font-size="17.5" font-style="italic">f</text><text x="145.4" y="43.6" font-size="24.5" font-style="italic">k</text><path d="M165.4 37.8L179.3 37.8" stroke="#000" stroke-width="1.3"/><text x="188.4" y="43.6" font-size="23" font-style="italic">ω</text><text x="145.6" y="64.8" font-size="18.5">Inverse</text></g>
</g>
</svg>
</body></html>
